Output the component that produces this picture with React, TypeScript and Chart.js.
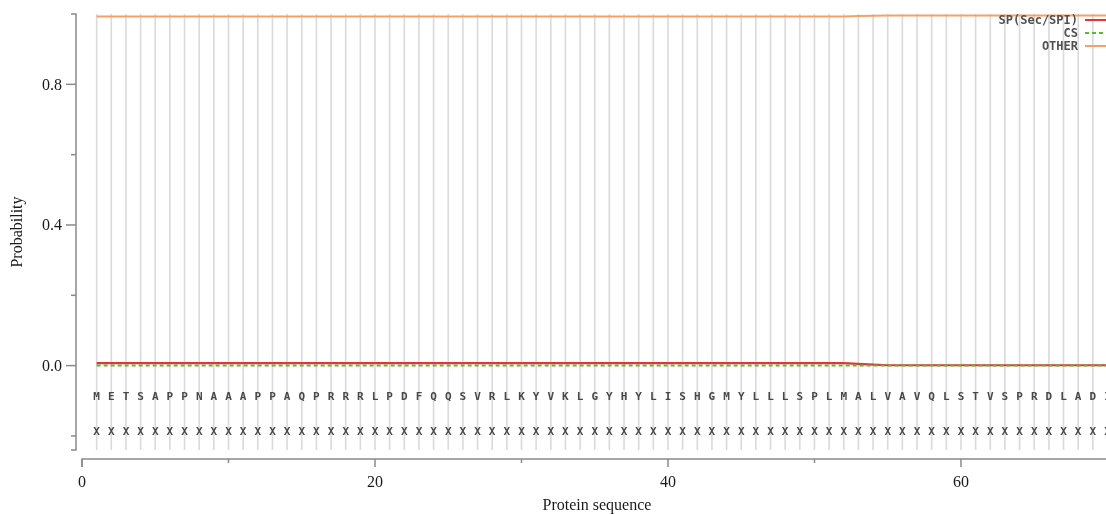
import { useEffect, useRef } from "react";
import { Chart, registerables } from "chart.js";

Chart.register(...registerables);

const positions = [
  1, 2, 3, 4, 5, 6, 7, 8, 9, 10, 11, 12, 13, 14, 15, 16, 17, 18, 19, 20,
  21, 22, 23, 24, 25, 26, 27, 28, 29, 30, 31, 32, 33, 34, 35, 36, 37, 38, 39, 40,
  41, 42, 43, 44, 45, 46, 47, 48, 49, 50, 51, 52, 53, 54, 55, 56, 57, 58, 59, 60,
  61, 62, 63, 64, 65, 66, 67, 68, 69, 70,
];

const sequence = "METSAPPNAAAPPAQPRRRLPDFQQSVRLKYVKLGYHYLISHGMYLLLSPLMALVAVQLSTVSPRDLADI".split("");
const predicted = "XXXXXXXXXXXXXXXXXXXXXXXXXXXXXXXXXXXXXXXXXXXXXXXXXXXXXXXXXXXXXXXXXXXXXX".split("");

const spValues = [
  0.007, 0.007, 0.007, 0.007, 0.007, 0.007, 0.007, 0.007, 0.007, 0.007,
  0.007, 0.007, 0.007, 0.007, 0.007, 0.007, 0.007, 0.007, 0.007, 0.007,
  0.007, 0.007, 0.007, 0.007, 0.007, 0.007, 0.007, 0.007, 0.007, 0.007,
  0.007, 0.007, 0.007, 0.007, 0.007, 0.007, 0.007, 0.007, 0.007, 0.007,
  0.007, 0.007, 0.007, 0.007, 0.007, 0.007, 0.007, 0.007, 0.007, 0.007,
  0.007, 0.007, 0.005, 0.003, 0.001, 0.001, 0.001, 0.001, 0.001, 0.001,
  0.001, 0.001, 0.001, 0.001, 0.001, 0.001, 0.001, 0.001, 0.001, 0.001,
];

const csValues = [
  0.0, 0.0, 0.0, 0.0, 0.0, 0.0, 0.0, 0.0, 0.0, 0.0,
  0.0, 0.0, 0.0, 0.0, 0.0, 0.0, 0.0, 0.0, 0.0, 0.0,
  0.0, 0.0, 0.0, 0.0, 0.0, 0.0, 0.0, 0.0, 0.0, 0.0,
  0.0, 0.0, 0.0, 0.0, 0.0, 0.0, 0.0, 0.0, 0.0, 0.0,
  0.0, 0.0, 0.0, 0.0, 0.0, 0.0, 0.0, 0.0, 0.0, 0.0,
  0.0, 0.0, 0.0, 0.0, 0.0, 0.0, 0.0, 0.0, 0.0, 0.0,
  0.0, 0.0, 0.0, 0.0, 0.0, 0.0, 0.0, 0.0, 0.0, 0.0,
];

const otherValues = [
  0.993, 0.993, 0.993, 0.993, 0.993, 0.993, 0.993, 0.993, 0.993, 0.993,
  0.993, 0.993, 0.993, 0.993, 0.993, 0.993, 0.993, 0.993, 0.993, 0.993,
  0.993, 0.993, 0.993, 0.993, 0.993, 0.993, 0.993, 0.993, 0.993, 0.993,
  0.993, 0.993, 0.993, 0.993, 0.993, 0.993, 0.993, 0.993, 0.993, 0.993,
  0.993, 0.993, 0.993, 0.993, 0.993, 0.993, 0.993, 0.993, 0.993, 0.993,
  0.993, 0.993, 0.994, 0.995, 0.996, 0.996, 0.996, 0.996, 0.996, 0.996,
  0.996, 0.996, 0.996, 0.996, 0.996, 0.996, 0.996, 0.996, 0.996, 0.996,
];

const seriesNames = ["SP(Sec/SPI)", "CS", "OTHER"];
const seriesColors = ["#e3343a", "#5cb82e", "#f5a06a"];

const yMajorTicks = [0.8, 0.4, 0.0];
const yTickLabels = ["0.8", "0.4", "0.0"];
const yMinorTicks = [0.6, 0.2, -0.2];
const xMajorTicks = [0, 20, 40, 60];
const xTickLabels = ["0", "20", "40", "60"];
const xMinorTicks = [10, 30, 50, 70];
const sequenceRow = -0.09;
const predictedRow = -0.19;
const xTitle = "Protein sequence";
const yTitle = "Probability";

const overlayPlugin = {
  id: "overlay",
  beforeDatasetsDraw(chart: any) {
    const { ctx, chartArea, scales } = chart;
    const xs = scales.x;
    ctx.save();
    ctx.strokeStyle = "#dadada";
    ctx.lineWidth = 1.6;
    positions.forEach((p) => {
      const px = xs.getPixelForValue(p);
      if (px > chartArea.right + 0.5) return;
      ctx.beginPath();
      ctx.moveTo(px, chartArea.top);
      ctx.lineTo(px, chartArea.bottom);
      ctx.stroke();
    });
    ctx.restore();
  },
  afterDatasetsDraw(chart: any) {
    const { ctx, chartArea, scales, width } = chart;
    const xs = scales.x;
    const ys = scales.y;
    ctx.save();
    ctx.font = "bold 11px 'DejaVu Sans Mono'";
    ctx.fillStyle = "#484848";
    ctx.textAlign = "center";
    ctx.textBaseline = "middle";
    positions.forEach((p, i) => {
      const px = xs.getPixelForValue(p);
      ctx.fillText(sequence[i], px, ys.getPixelForValue(sequenceRow));
      ctx.fillText(predicted[i], px, ys.getPixelForValue(predictedRow));
    });

    const axisColor = "#8a8a8a";
    const yAxisX = chartArea.left - 6;
    ctx.strokeStyle = axisColor;
    ctx.lineWidth = 1.5;
    ctx.beginPath();
    ctx.moveTo(yAxisX - 5, chartArea.top);
    ctx.lineTo(yAxisX, chartArea.top);
    ctx.lineTo(yAxisX, chartArea.bottom);
    ctx.lineTo(yAxisX - 5, chartArea.bottom);
    ctx.stroke();
    yMajorTicks.forEach((v) => {
      const py = ys.getPixelForValue(v);
      ctx.beginPath();
      ctx.moveTo(yAxisX - 10, py);
      ctx.lineTo(yAxisX, py);
      ctx.stroke();
    });
    yMinorTicks.forEach((v) => {
      const py = ys.getPixelForValue(v);
      ctx.beginPath();
      ctx.moveTo(yAxisX - 5, py);
      ctx.lineTo(yAxisX, py);
      ctx.stroke();
    });
    ctx.font = "16px 'Liberation Serif'";
    ctx.fillStyle = "#1a1a1a";
    ctx.textAlign = "right";
    ctx.textBaseline = "middle";
    yMajorTicks.forEach((v, i) => {
      ctx.fillText(yTickLabels[i], yAxisX - 14, ys.getPixelForValue(v) + 1);
    });

    const xAxisY = chartArea.bottom + 9;
    ctx.beginPath();
    ctx.moveTo(chartArea.left, xAxisY + 8);
    ctx.lineTo(chartArea.left, xAxisY);
    ctx.lineTo(width, xAxisY);
    ctx.stroke();
    xMajorTicks.forEach((v) => {
      const px = xs.getPixelForValue(v);
      ctx.beginPath();
      ctx.moveTo(px, xAxisY);
      ctx.lineTo(px, xAxisY + 8);
      ctx.stroke();
    });
    xMinorTicks.forEach((v) => {
      const px = xs.getPixelForValue(v);
      ctx.beginPath();
      ctx.moveTo(px, xAxisY);
      ctx.lineTo(px, xAxisY + 4);
      ctx.stroke();
    });
    ctx.textAlign = "center";
    ctx.textBaseline = "middle";
    xMajorTicks.forEach((v, i) => {
      ctx.fillText(xTickLabels[i], xs.getPixelForValue(v), xAxisY + 24);
    });

    ctx.fillText(xTitle, (chartArea.left + width) / 2 + 3, 506);
    ctx.save();
    ctx.translate(18, (chartArea.top + chartArea.bottom) / 2);
    ctx.rotate(-Math.PI / 2);
    ctx.fillText(yTitle, 0, 0);
    ctx.restore();

    ctx.font = "bold 12px 'DejaVu Sans Mono'";
    ctx.fillStyle = "#505050";
    ctx.textAlign = "right";
    ctx.textBaseline = "middle";
    const legendYs = [20, 33, 46];
    seriesNames.forEach((name, i) => {
      const ly = legendYs[i];
      ctx.fillText(name, 1078, ly + 1);
      ctx.strokeStyle = seriesColors[i];
      ctx.lineWidth = 2;
      ctx.setLineDash(i === 1 ? [4, 3] : []);
      ctx.beginPath();
      ctx.moveTo(1085, ly);
      ctx.lineTo(width, ly);
      ctx.stroke();
    });
    ctx.setLineDash([]);
    ctx.restore();
  },
};

export default function App() {
  const canvasRef = useRef<HTMLCanvasElement | null>(null);

  useEffect(() => {
    const canvas = canvasRef.current;
    if (!canvas) return;
    const toPoints = (vals: number[]) => positions.map((p, i) => ({ x: p, y: vals[i] }));
    const chart = new Chart(canvas, {
      type: "line",
      data: {
        datasets: [
          {
            label: seriesNames[1],
            data: toPoints(csValues),
            borderColor: seriesColors[1],
            borderWidth: 2,
            borderDash: [4, 3],
            pointRadius: 0,
            tension: 0,
            order: 0,
          },
          {
            label: seriesNames[0],
            data: toPoints(spValues),
            borderColor: seriesColors[0],
            borderWidth: 2.2,
            pointRadius: 0,
            tension: 0,
            order: 1,
          },
          {
            label: seriesNames[2],
            data: toPoints(otherValues),
            borderColor: seriesColors[2],
            borderWidth: 2,
            pointRadius: 0,
            tension: 0,
            order: 2,
          },
        ],
      },
      options: {
        animation: false,
        responsive: false,
        devicePixelRatio: 1,
        layout: { padding: { left: 82, right: 0, top: 14, bottom: 64 } },
        plugins: { legend: { display: false }, tooltip: { enabled: false } },
        scales: {
          x: { type: "linear", min: 0, max: 69.9, display: false },
          y: { type: "linear", min: -0.24, max: 1.0, display: false },
        },
      },
      plugins: [overlayPlugin],
    });
    return () => chart.destroy();
  }, []);

  return (
    <div style={{ position: "fixed", left: 0, top: 0, width: 1106, height: 514, background: "#ffffff" }}>
      <canvas ref={canvasRef} width={1106} height={514} style={{ display: "block" }} />
    </div>
  );
}
